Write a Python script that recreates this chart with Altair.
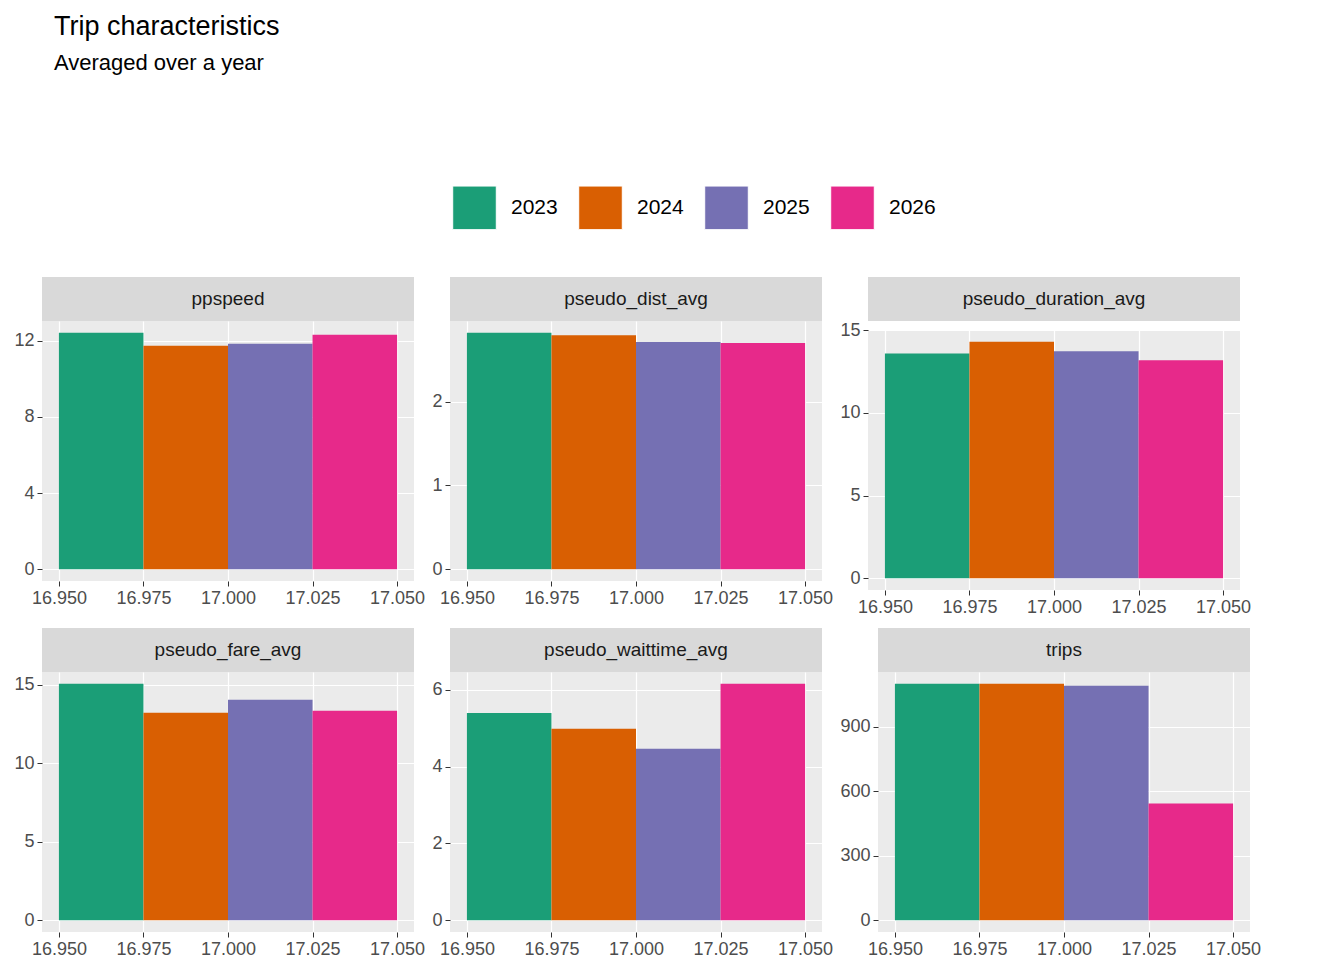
import altair as alt
import pandas as pd

variables = ["ppspeed", "pseudo_dist_avg", "pseudo_duration_avg",
             "pseudo_fare_avg", "pseudo_waittime_avg", "trips"]
years = ["2023", "2024", "2025", "2026"]
values = {
    "ppspeed": [12.42, 11.74, 11.85, 12.32],
    "pseudo_dist_avg": [2.82, 2.79, 2.71, 2.70],
    "pseudo_duration_avg": [13.60, 14.30, 13.73, 13.19],
    "pseudo_fare_avg": [15.07, 13.22, 14.05, 13.35],
    "pseudo_waittime_avg": [5.40, 4.99, 4.47, 6.16],
    "trips": [1099, 1099, 1090, 543],
}
yticks = {
    "ppspeed": [0, 4, 8, 12],
    "pseudo_dist_avg": [0, 1, 2],
    "pseudo_duration_avg": [0, 5, 10, 15],
    "pseudo_fare_avg": [0, 5, 10, 15],
    "pseudo_waittime_avg": [0, 2, 4, 6],
    "trips": [0, 300, 600, 900],
}
hour = 17.0
bar_w = 0.025
xticks = [16.95, 16.975, 17.0, 17.025, 17.05]
colors = ["#1B9E77", "#D95F02", "#7570B3", "#E7298A"]

W, H, SH = 372, 260, 44
GRAY = "#4D4D4D"

def panel(var, xtitle=None):
    rows = []
    for i, (y, v) in enumerate(zip(years, values[var])):
        rows.append({"year": y, "value": v, "idx": i})
    df = pd.DataFrame(rows)
    mx = max(values[var])
    strip = alt.Chart(pd.DataFrame({"label": [var]})).mark_rect(color="#D9D9D9").encode(
        x=alt.value(0), x2=alt.value(W), y=alt.value(0), y2=alt.value(SH)
    ) + alt.Chart(pd.DataFrame({"label": [var]})).mark_text(
        fontSize=19, color="#1A1A1A", font="Liberation Sans").encode(
        text="label:N", x=alt.value(W / 2), y=alt.value(SH / 2))
    strip = strip.properties(width=W, height=SH)
    bars = alt.Chart(df).transform_calculate(
        x0=f"{hour} - 2*{bar_w} + datum.idx*{bar_w}",
        x1=f"{hour} - 2*{bar_w} + (datum.idx+1)*{bar_w}",
    ).mark_rect().encode(
        x=alt.X("x0:Q", scale=alt.Scale(domain=[16.945, 17.055], nice=False, zero=False),
                axis=alt.Axis(values=xticks, format=".3f", title=xtitle,
                              titleFontSize=23, titleFontWeight="normal", titleColor="black",
                              titlePadding=6)),
        x2="x1:Q",
        y=alt.Y("value:Q", scale=alt.Scale(domain=[-0.05 * mx, 1.05 * mx], nice=False),
                axis=alt.Axis(values=yticks[var], title=None)),
        y2=alt.datum(0),
        color=alt.Color("year:N", scale=alt.Scale(domain=years, range=colors),
                        legend=alt.Legend(title=None)),
    ).properties(width=W, height=H)
    return alt.vconcat(strip, bars, spacing=0)

row1 = alt.hconcat(*[panel(v) for v in variables[:3]], spacing=6)
row2 = alt.hconcat(panel(variables[3]), panel(variables[4], "Hour of Day"), panel(variables[5]), spacing=6)
chart = alt.vconcat(row1, row2, spacing=12).properties(
    title=alt.TitleParams("Trip characteristics", subtitle="Averaged over a year",
                          anchor="start", fontSize=27, subtitleFontSize=22,
                          fontWeight="normal", color="black", subtitleColor="black",
                          font="Liberation Sans", subtitleFont="Liberation Sans",
                          subtitlePadding=12, offset=110, dx=40)
).configure_view(fill="#EBEBEB", stroke=None).configure_axis(
    grid=True, gridColor="white", gridWidth=1.2, domain=False,
    tickColor="#333333", tickSize=5, labelColor=GRAY, labelFontSize=18,
    labelFont="Liberation Sans", titleFont="Liberation Sans", labelPadding=3
).configure_legend(
    orient="none", legendX=410, legendY=-92, direction="horizontal",
    symbolType="square", symbolSize=1900,
    symbolStrokeColor="white", symbolStrokeWidth=1, symbolOpacity=1,
    labelFontSize=21, labelFont="Liberation Sans", labelColor="black",
    columnPadding=18, labelOffset=14
)

chart.save("out.html", embed_options={"renderer": "svg", "actions": False})
